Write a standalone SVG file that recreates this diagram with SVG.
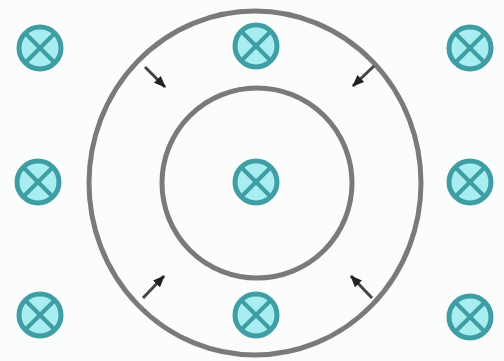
<svg xmlns="http://www.w3.org/2000/svg" width="504" height="361" viewBox="0 0 504 361">
<defs>
<style>
.symc{fill:#a8eef0;stroke:#3f9ea3;stroke-width:5}
.syml{stroke:#3f9ea3;stroke-width:4}
.ring{fill:none;stroke:#7a7a7a;stroke-width:5}
.arr{stroke:#444;stroke-width:3;marker-end:url(#ah)}
</style>
<marker id="ah" viewBox="0 0 10 10" refX="9" refY="5" markerWidth="4" markerHeight="4" orient="auto">
<path d="M0,1 L10,5 L0,9 z" fill="#222"/>
</marker>
<g id="sym">
<circle class="symc" cx="0" cy="0" r="21" fill="#a8eef0" stroke="#3f9ea3" stroke-width="5"/>
<line class="syml" x1="-14" y1="-14" x2="14" y2="14" stroke="#3f9ea3" stroke-width="4"/>
<line class="syml" x1="14" y1="-14" x2="-14" y2="14" stroke="#3f9ea3" stroke-width="4"/>
</g>
</defs>
<rect width="504" height="361" fill="#fbfdfd"/>
<g id="outer-ring"><ellipse class="ring" cx="255" cy="183" rx="166" ry="172"/></g>
<g id="inner-ring"><circle class="ring" cx="257" cy="183" r="95"/></g>
<g id="symbols">
<use id="s1" href="#sym" x="40" y="48"/>
<use id="s2" href="#sym" x="256" y="46"/>
<use id="s3" href="#sym" x="470" y="48"/>
<use id="s4" href="#sym" x="38" y="182"/>
<use id="s5" href="#sym" x="256" y="182"/>
<use id="s6" href="#sym" x="470" y="182"/>
<use id="s7" href="#sym" x="40" y="315"/>
<use id="s8" href="#sym" x="256" y="315"/>
<use id="s9" href="#sym" x="470" y="317"/>
</g>
<g id="connectors">
<line class="arr" x1="145" y1="67" x2="165" y2="87"/>
<line class="arr" x1="374" y1="66" x2="353" y2="86"/>
<line class="arr" x1="143" y1="298" x2="164" y2="276"/>
<line class="arr" x1="372" y1="298" x2="351" y2="276"/>
</g>
</svg>
